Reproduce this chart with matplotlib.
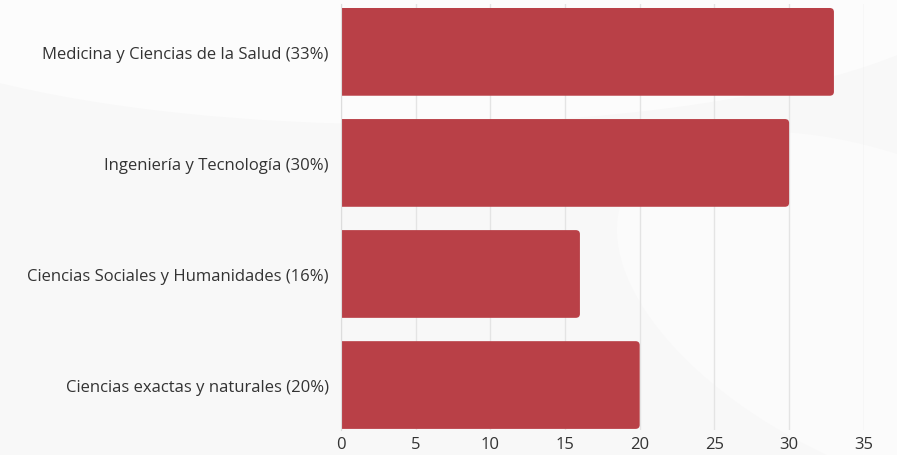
import matplotlib.pyplot as plt
from matplotlib.patches import FancyBboxPatch, Ellipse

categories = ["Medicina y Ciencias de la Salud (33%)",
              "Ingeniería y Tecnología (30%)",
              "Ciencias Sociales y Humanidades (16%)",
              "Ciencias exactas y naturales (20%)"]
values = [33, 30, 16, 20]
xticks = [0, 5, 10, 15, 20, 25, 30, 35]

plt.rcParams['font.family'] = ['Open Sans', 'DejaVu Sans']

fig = plt.figure(figsize=(8.97, 4.56), dpi=100)
fig.patch.set_facecolor('#f8f8f8')

# faint background shapes
fig.patches.append(Ellipse((0.45, 1.05), 1.3, 0.65, transform=fig.transFigure,
                           facecolor='#fcfcfc', edgecolor='none', zorder=-2))
fig.patches.append(Ellipse((1.0, 0.3), 0.5, 0.9, angle=30, transform=fig.transFigure,
                           facecolor='#fbfbfb', edgecolor='none', zorder=-2))

ax = fig.add_axes([0.380, 0.0548, 0.583, 0.934])
ax.set_facecolor('none')

bars = ax.barh(range(len(values)), values, height=0.79, color='#b94047', zorder=2)
ax.set_xlim(0, 35)
ax.set_ylim(3.405, -0.43)

# swap plain bars for ones with rounded right corners
for b in bars:
    x, y, w, h = b.get_x(), b.get_y(), b.get_width(), b.get_height()
    b.set_visible(False)
    r = 0.28
    p = FancyBboxPatch((x - 1, y), w + 1, h,
                       boxstyle=f"round,pad=0,rounding_size={r}",
                       mutation_aspect=15 / 111 * 0.95,
                       facecolor='#b94047', edgecolor='none', zorder=2)
    ax.add_patch(p)

ax.set_yticks(range(len(categories)))
ax.set_yticklabels(categories, fontsize=12, color='#333333')
ax.set_xticks(xticks)
ax.set_xticklabels([str(t) for t in xticks], fontsize=12, color='#333333')
ax.tick_params(length=0)
ax.tick_params(axis='y', pad=8.7)
ax.tick_params(axis='x', pad=4)

ax.grid(axis='x', color='#e4e4e4', linewidth=1, zorder=0)
ax.set_axisbelow(True)
for s in ['top', 'right', 'bottom']:
    ax.spines[s].set_visible(False)
ax.spines['left'].set_color('#dddddd')

fig.savefig('out.png', dpi=100, facecolor=fig.get_facecolor())
